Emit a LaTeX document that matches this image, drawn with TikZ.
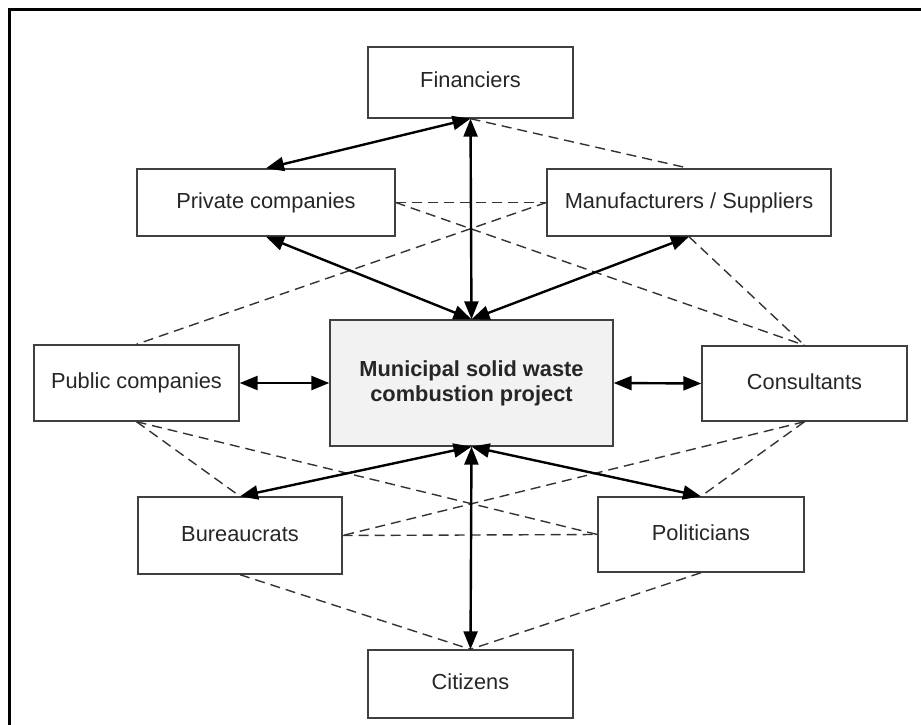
\documentclass[tikz,border=0pt]{standalone}
\usepackage{fontspec}
\setmainfont{Liberation Sans}
\usetikzlibrary{arrows.meta}
\begin{document}
\begin{tikzpicture}[x=1pt,y=-1pt,
  box/.style={draw=black!75, line width=1.4pt, rectangle, inner sep=0pt, text=black!85,
    font=\fontsize{21.8}{25}\selectfont, align=center, text height=15.6pt, text depth=4.6pt},
  link/.style={line width=2.4pt, {Triangle[length=18pt,width=14pt]}-{Triangle[length=18pt,width=14pt]}},
  weak/.style={line width=1.4pt, black!80, dash pattern=on 10pt off 6pt}]
\useasboundingbox (0,0) rectangle (921,725);
\draw[line width=3pt] (9,725) -- (9,10) -- (921,10);
\node[box, minimum width=205pt, minimum height=71pt] (fin) at (470.5,82.5) {Financiers};
\node[box, minimum width=258pt, minimum height=67pt] (priv) at (266,202.5) {Private companies};
\node[box, minimum width=284pt, minimum height=67pt] (man) at (689,202.5) {Manufacturers / Suppliers};
\node[box, minimum width=283pt, minimum height=126pt, fill=black!5, text height=, text depth=, font=\bfseries\fontsize{21.8}{25}\selectfont] (proj) at (471.5,383) {Municipal solid waste\\combustion project};
\node[box, minimum width=205pt, minimum height=76pt] (pub) at (136.5,383) {Public companies};
\node[box, minimum width=205pt, minimum height=75pt] (cons) at (804.5,383.5) {Consultants};
\node[box, minimum width=204pt, minimum height=77pt] (bur) at (240,535.5) {Bureaucrats};
\node[box, minimum width=206pt, minimum height=75pt] (pol) at (701,534.5) {Politicians};
\node[box, minimum width=205pt, minimum height=68pt] (cit) at (470.5,684) {Citizens};
% dashed relations
\draw[weak] (fin.south) -- (man.north);
\draw[weak] (priv.east) -- (man.west);
\draw[weak] (priv.east) -- (cons.north);
\draw[weak] (man.south) -- (cons.north);
\draw[weak] (man.west) -- (pub.north);
\draw[weak] (pub.south) -- (bur.north);
\draw[weak] (pub.south) -- (pol.west);
\draw[weak] (cons.south) -- (bur.east);
\draw[weak] (cons.south) -- (pol.north);
\draw[weak] (bur.east) -- (pol.west);
\draw[weak] (bur.south) -- (cit.north);
\draw[weak] (pol.south) -- (cit.north);
% solid relations
\draw[link] (fin.south) -- (priv.north);
\draw[link] (fin.south) -- (proj.north);
\draw[link] (priv.south) -- (proj.north);
\draw[link] (man.south) -- (proj.north);
\draw[link] (pub.east) -- (proj.west);
\draw[link] (proj.east) -- (cons.west);
\draw[link] (proj.south) -- (bur.north);
\draw[link] (proj.south) -- (pol.north);
\draw[link] (proj.south) -- (cit.north);
\end{tikzpicture}
\end{document}
